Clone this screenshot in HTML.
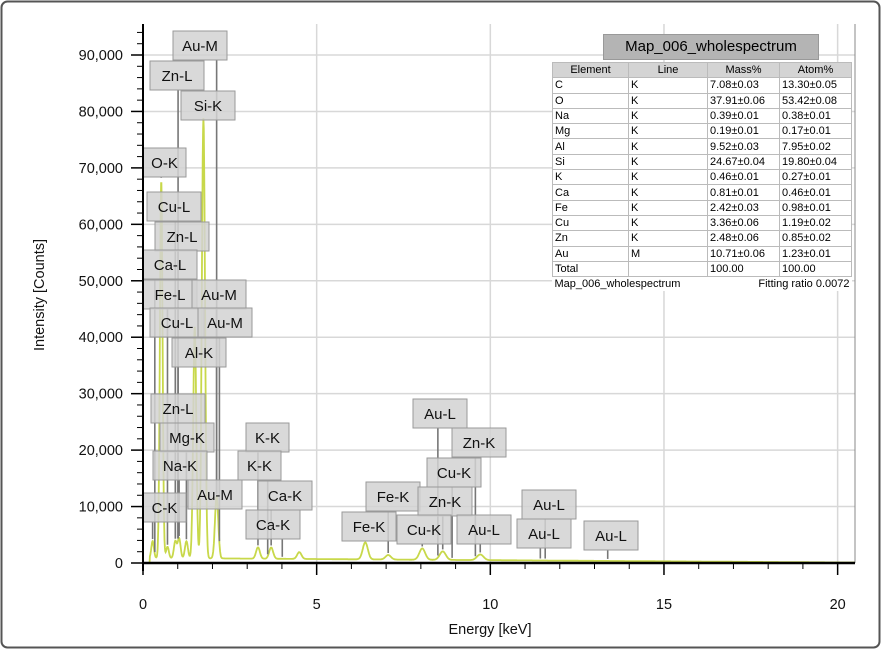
<!DOCTYPE html>
<html><head><meta charset="utf-8">
<style>
body{margin:0;background:#fff;font-family:"Liberation Sans",sans-serif;}
#wrap{position:relative;width:881px;height:649px;overflow:hidden;}
svg text{font-family:"Liberation Sans",sans-serif;}
#tbl{position:absolute;left:552px;top:62px;width:300px;border-collapse:collapse;font-size:11px;background:#fff;}
#tbl td{border:1px solid #bbb;padding:0 2px;height:14.3px;line-height:14px;}
#tbl tr.h td{background:#d4d4d4;text-align:center;}
#ttl{position:absolute;left:603px;top:34px;width:214px;height:24px;background:#b4b4b4;font-size:15px;line-height:24px;text-align:center;border:1px solid #999;}
</style></head><body>
<div id="wrap">
<svg id="svg" width="881" height="649"></svg>
<div id="ttl">Map_006_wholespectrum</div>
<table id="tbl">
<tr class="h"><td style="width:71px">Element</td><td style="width:74px">Line</td><td style="width:67px">Mass%</td><td>Atom%</td></tr>
<tr><td>C</td><td>K</td><td>7.08±0.03</td><td>13.30±0.05</td></tr>
<tr><td>O</td><td>K</td><td>37.91±0.06</td><td>53.42±0.08</td></tr>
<tr><td>Na</td><td>K</td><td>0.39±0.01</td><td>0.38±0.01</td></tr>
<tr><td>Mg</td><td>K</td><td>0.19±0.01</td><td>0.17±0.01</td></tr>
<tr><td>Al</td><td>K</td><td>9.52±0.03</td><td>7.95±0.02</td></tr>
<tr><td>Si</td><td>K</td><td>24.67±0.04</td><td>19.80±0.04</td></tr>
<tr><td>K</td><td>K</td><td>0.46±0.01</td><td>0.27±0.01</td></tr>
<tr><td>Ca</td><td>K</td><td>0.81±0.01</td><td>0.46±0.01</td></tr>
<tr><td>Fe</td><td>K</td><td>2.42±0.03</td><td>0.98±0.01</td></tr>
<tr><td>Cu</td><td>K</td><td>3.36±0.06</td><td>1.19±0.02</td></tr>
<tr><td>Zn</td><td>K</td><td>2.48±0.06</td><td>0.85±0.02</td></tr>
<tr><td>Au</td><td>M</td><td>10.71±0.06</td><td>1.23±0.01</td></tr>
<tr><td>Total</td><td></td><td>100.00</td><td>100.00</td></tr>
<tr><td colspan="4" style="border:none;"><span>Map_006_wholespectrum</span><span style="float:right">Fitting ratio 0.0072</span></td></tr>
</table>
</div>
<script>
// peak data
const peakEnergies=[0.277,0.525,0.705,0.93,1.04,1.25,1.49,1.74,2.12,3.31,3.69,4.5,6.40,7.06,8.04,8.63,9.71];
const peakCounts=[3000,67000,2000,3000,3500,3000,41000,78000,11000,2000,2000,1200,3000,800,2000,1500,1000];
const yTicks=[0,10000,20000,30000,40000,50000,60000,70000,80000,90000];
const yTickLabels=["0","10,000","20,000","30,000","40,000","50,000","60,000","70,000","80,000","90,000"];
const xTicks=[0,5,10,15,20];
const labelTexts=["Au-M","Zn-L","Si-K","O-K","Cu-L","Zn-L","Ca-L","Fe-L","Au-M","Cu-L","Au-M","Al-K","Zn-L","Mg-K","Na-K","Au-M","C-K","K-K","K-K","Ca-K","Ca-K","Au-L","Zn-K","Cu-K","Fe-K","Zn-K","Fe-K","Cu-K","Au-L","Au-L","Au-L","Au-L"];
const labelEnergies=[2.12,1.01,1.74,0.525,0.93,1.01,0.34,0.705,2.12,0.93,2.2,1.49,1.01,1.25,1.04,2.12,0.277,3.31,3.59,3.69,4.01,8.49,9.57,8.9,7.06,8.63,6.40,8.04,9.71,11.58,11.44,13.38];
const labelBoxX=[173,150,181,143,147,155,143,143,192,150,198,172,151,160,153,188,143,246,238,258,246,413,452,427,366,418,342,397,457,522,517,584];
const labelBoxY=[31,61,91,148,192,222,250,280,280,308,308,338,394,423,451,480,493,423,451,481,510,399,428,458,482,487,512,515,515,490,519,521];

const X0=143,X1=855,Y0=563,YT=24,PX=(X1-X0)/20.5;
const sx=e=>X0+e*PX, sy=v=>Y0-v*(Y0-55)/90000;
const svg=document.getElementById('svg'),NS='http://www.w3.org/2000/svg';
function mk(t,a,p){const e=document.createElementNS(NS,t);for(const k in a)e.setAttribute(k,a[k]);(p||svg).appendChild(e);return e;}
mk('rect',{x:1.5,y:1.5,width:878,height:646,rx:6,fill:'none',stroke:'#555','stroke-width':2});
yTicks.forEach(v=>{if(v>0){const g=mk('line',{x1:X0,x2:X1,y1:sy(v),y2:sy(v),stroke:'#d8d8d8','stroke-width':1.5});}});
xTicks.forEach(v=>{if(v>0){const g=mk('line',{x1:sx(v),x2:sx(v),y1:YT,y2:Y0,stroke:'#d8d8d8','stroke-width':1.5});}});
mk('line',{x1:X1,x2:X1,y1:YT,y2:Y0,stroke:'#888','stroke-width':1});
function specAt(e){let v=e<0.2?0:Math.max(0,900-e*40);peakEnergies.forEach((p,i)=>{const s=0.035+0.006*p;v+=peakCounts[i]*Math.exp(-0.5*((e-p)/s)**2);});return v;}
let d='';
for(let e=0.1;e<=20.5;e+=0.01){d+=(d?'L':'M')+sx(e).toFixed(1)+','+sy(specAt(e)).toFixed(1);}
const sp=mk('path',{d:d,fill:'none',stroke:'#c8d84a','stroke-width':1.8});

labelTexts.forEach((t,i)=>{
 const bx=labelBoxX[i],by=labelBoxY[i],w=t.length*11+10,h=29,ex=sx(labelEnergies[i]);
 const g=mk('g',{});
 
 
 mk('line',{x1:ex,x2:ex,y1:by+h,y2:Math.max(by+h,sy(specAt(labelEnergies[i]))-2),stroke:'#777','stroke-width':1.6},g);
 mk('rect',{x:bx,y:by,width:w,height:h,fill:'#d2d2d2','fill-opacity':0.85,stroke:'#999','stroke-width':1},g);
 mk('text',{x:bx+w/2,y:by+20,'text-anchor':'middle','font-size':15,fill:'#111'},g).textContent=t;
});
mk('line',{x1:X0,x2:X0,y1:YT,y2:Y0+8,stroke:'#000','stroke-width':2});
mk('line',{x1:X0-1,x2:X1,y1:Y0,y2:Y0,stroke:'#000','stroke-width':2.5});
for(let v=0;v<=94000;v+=2000){const maj=v%10000===0;mk('line',{x1:X0-(maj?12:6),x2:X0,y1:sy(v),y2:sy(v),stroke:'#000','stroke-width':maj?1.5:1});}
yTicks.forEach((v,i)=>{const t=mk('text',{x:123,y:sy(v)+5,'text-anchor':'end','font-size':14.5,fill:'#111'});t.textContent=yTickLabels[i];});
for(let e=0;e<=20;e++){const maj=e%5===0;mk('line',{x1:sx(e),x2:sx(e),y1:Y0,y2:Y0+(maj?12:6),stroke:'#000','stroke-width':maj?1.5:1});}
xTicks.forEach(v=>{const t=mk('text',{x:sx(v),y:609,'text-anchor':'middle','font-size':14.5,fill:'#111'});t.textContent=String(v);});
const xt=mk('text',{x:490,y:634,'text-anchor':'middle','font-size':14.5,fill:'#111'});xt.textContent='Energy [keV]';

const yt=mk('text',{x:44,y:295,'text-anchor':'middle','font-size':14.5,fill:'#111',transform:'rotate(-90 44 295)'});yt.textContent='Intensity [Counts]';

</script>
</body></html>
